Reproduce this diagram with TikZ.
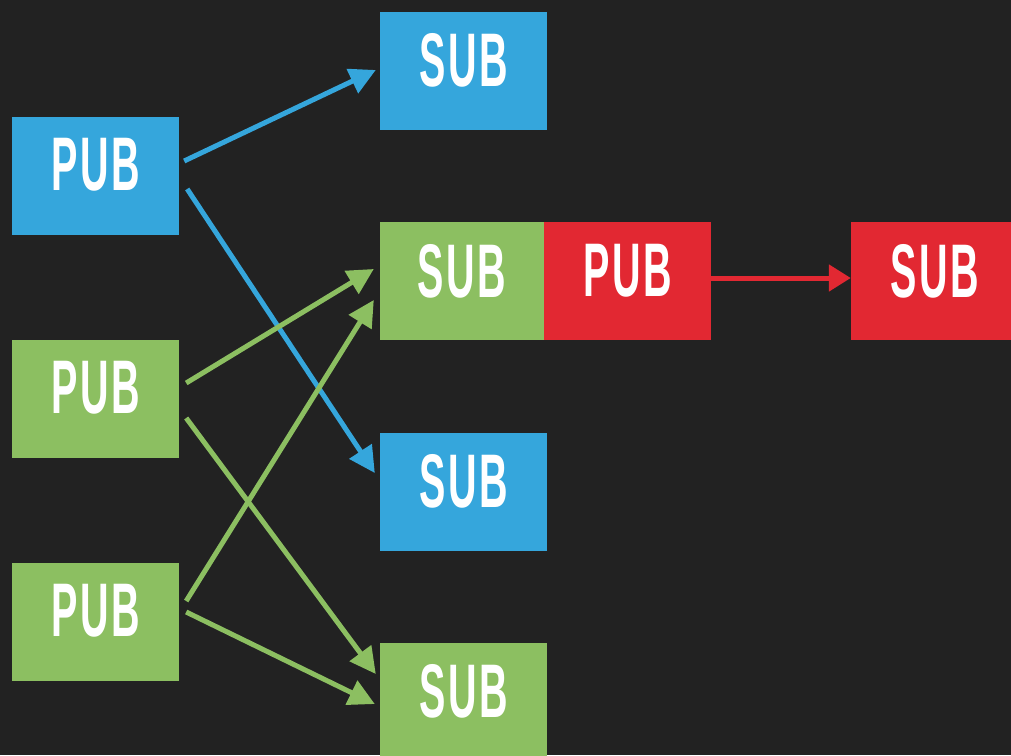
\documentclass[tikz,border=0pt]{standalone}
\usepackage{fontspec}
\setmainfont{Liberation Sans}
\newfontfamily\labelfont[LetterSpace=6]{Liberation Sans}
\usetikzlibrary{arrows.meta,calc}

\definecolor{bgdark}{HTML}{222222}
\definecolor{pbblue}{HTML}{35A6DC}
\definecolor{pbgreen}{HTML}{8CBF61}
\definecolor{pbred}{HTML}{E22832}

\tikzset{
  box/.style={rectangle, inner sep=0pt, minimum width=167pt, minimum height=118pt},
  lbl/.style={inner sep=0pt, text=white,
    font=\labelfont\fontsize{76}{80}\selectfont\bfseries},
  link/.style={line width=5pt, -{Triangle[length=26pt,width=26pt]}},
}
\newcommand{\cond}[1]{\scalebox{0.52}[1]{#1}}

\begin{document}
\begin{tikzpicture}[x=1pt,y=-1pt]
  \useasboundingbox (0,0) rectangle (1011,755);
  \fill[bgdark] (0,0) rectangle (1011,755);

  % publishers on the left
  \node[box, fill=pbblue]  (p1) at (95.5,176) {};
  \node[box, fill=pbgreen] (p2) at (95.5,399) {};
  \node[box, fill=pbgreen] (p3) at (95.5,622) {};

  % subscribers in the middle column
  \node[box, fill=pbblue]  (s1) at (463.5,71) {};
  \node[box, fill=pbgreen, minimum width=164pt] (s2) at (462,281) {};
  \node[box, fill=pbred]   (p4) at (627.5,281) {};
  \node[box, fill=pbblue]  (s3) at (463.5,492) {};
  \node[box, fill=pbgreen] (s4) at (463.5,702) {};

  % subscriber on the far right
  \node[box, fill=pbred]   (s5) at (934.5,281) {};

  % labels
  \node[lbl] (p1t) at ($(p1.center)+(0,-11)$) {\cond{PUB}};
  \node[lbl] (p2t) at ($(p2.center)+(0,-11)$) {\cond{PUB}};
  \node[lbl] (p3t) at ($(p3.center)+(0,-11)$) {\cond{PUB}};
  \node[lbl] (s1t) at ($(s1.center)+(0,-11)$) {\cond{SUB}};
  \node[lbl] (s2t) at ($(s2.center)+(0,-10)$) {\cond{SUB}};
  \node[lbl] (p4t) at ($(p4.center)+(0,-10)$) {\cond{PUB}};
  \node[lbl] (s3t) at ($(s3.center)+(0,-11)$) {\cond{SUB}};
  \node[lbl] (s4t) at ($(s4.center)+(0,-11)$) {\cond{SUB}};
  \node[lbl] (s5t) at ($(s5.center)+(0,-10)$) {\cond{SUB}};

  % blue publisher
  \draw[link, pbblue] ($(p1.east)+(5,-15)$) -- ($(s1.west)+(-4,-1)$);
  \draw[link, pbblue] ($(p1.east)+(8,13)$)  -- ($(s3.west)+(-5,-19)$);

  % green publishers
  \draw[link, pbgreen] ($(p2.east)+(7,-16)$) -- ($(s2.west)+(-6,-12)$);
  \draw[link, pbgreen] ($(p2.east)+(7,19)$)  -- ($(s4.west)+(-4,-28)$);
  \draw[link, pbgreen] ($(p3.east)+(7,-21)$) -- ($(s2.west)+(-6,19)$);
  \draw[link, pbgreen] ($(p3.east)+(7,-10)$) -- ($(s4.west)+(-5,2)$);

  % red relay
  \draw[line width=5pt, pbred, -{Triangle[length=22pt,width=26pt]}]
    ($(p4.east)+(0,-3)$) -- ($(s5.west)+(0,-3)$);
\end{tikzpicture}
\end{document}
